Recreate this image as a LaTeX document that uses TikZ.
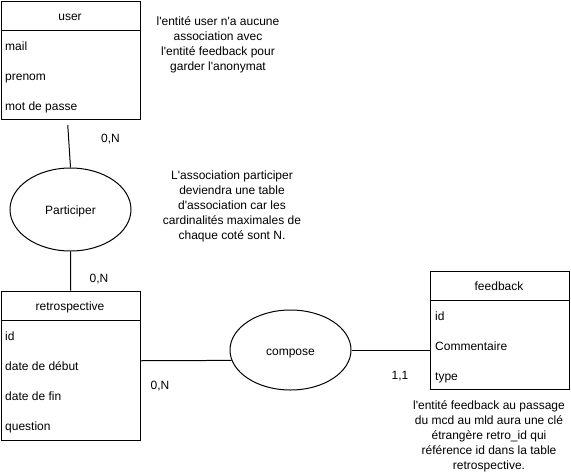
\documentclass[tikz,border=0pt]{standalone}
\usepackage{fontspec}
\setmainfont{Liberation Sans}[Ligatures=TeXOff]
\usetikzlibrary{shapes.geometric}
\begin{document}
\begin{tikzpicture}[x=1pt,y=-1pt,
  every node/.style={font=\fontsize{12}{15}\selectfont, inner sep=0pt},
  entity/.style={draw, line width=1pt, rectangle, anchor=north west, minimum width=139.5pt},
  assoc/.style={draw, line width=1pt, ellipse, inner sep=0pt, minimum width=121pt,
    text height=10pt, text depth=0pt},
  title/.style={anchor=base},
  attr/.style={anchor=base west},
  card/.style={anchor=base},
  note/.style={align=center},
  link/.style={line width=1pt}]
\useasboundingbox (0,0) rectangle (571,472);

% entity: user
\node[entity, minimum height=118.5pt] (user) at (0.5,0.5) {};
\draw[link] ([yshift=-30pt]user.north west) -- ([yshift=-30pt]user.north east);
\node[title] (usertitle) at (70,20) {user};
\node[attr] (umail) at (5,50) {mail};
\node[attr] (uprenom) at (5,80) {prenom};
\node[attr] (upass) at (5,110) {mot de passe};

% entity: retrospective
\node[entity, minimum height=149.5pt] (retro) at (0.5,290.5) {};
\draw[link] ([yshift=-30pt]retro.north west) -- ([yshift=-30pt]retro.north east);
\node[title] (retrotitle) at (70,310) {retrospective};
\node[attr] (rid) at (5,340) {id};
\node[attr] (rdebut) at (5,370) {date de début};
\node[attr] (rfin) at (5,400) {date de fin};
\node[attr] (rquestion) at (5,430) {question};

% entity: feedback
\node[entity, minimum height=118.5pt] (fb) at (429.5,270.5) {};
\draw[link] ([yshift=-30pt]fb.north west) -- ([yshift=-30pt]fb.north east);
\node[title] (fbtitle) at (499,290) {feedback};
\node[attr] (fid) at (435,320) {id};
\node[attr] (fcomment) at (435,350) {Commentaire};
\node[attr] (ftype) at (435,380) {type};

% associations
\node[assoc, minimum height=83pt] (part) at (70.5,209.5) {Participer};
\node[assoc, minimum height=80pt] (comp) at (290.5,350) {compose};

% links
\draw[link] ([xshift=-3pt,yshift=-5pt]user.south) -- (part.north);
\draw[link] (part.south) -- (retro.north);
\draw[link] ([yshift=5pt]retro.east) -- (comp.190);
\draw[link] (comp.east) -- (comp.east -| fb.west);

% cardinalities
\node[card] (c1) at (110.5,142) {0,N};
\node[card] (c2) at (99,282) {0,N};
\node[card] (c3) at (160,389) {0,N};
\node[card] (c4) at (400,379) {1,1};

% notes
\node[note] (n1) at (218,44.5) {l'entité user n'a aucune\\association avec\\l'entité feedback pour\\garder l'anonymat};
\node[note] (n2) at (232,206) {L'association participer\\deviendra une table\\d'association car les\\cardinalités maximales de\\chaque coté sont N.};
\node[note] (n3) at (489,436) {l'entité feedback au passage\\du mcd au mld aura une clé\\étrangère retro\_id qui\\référence id dans la table\\retrospective.};
\end{tikzpicture}
\end{document}
